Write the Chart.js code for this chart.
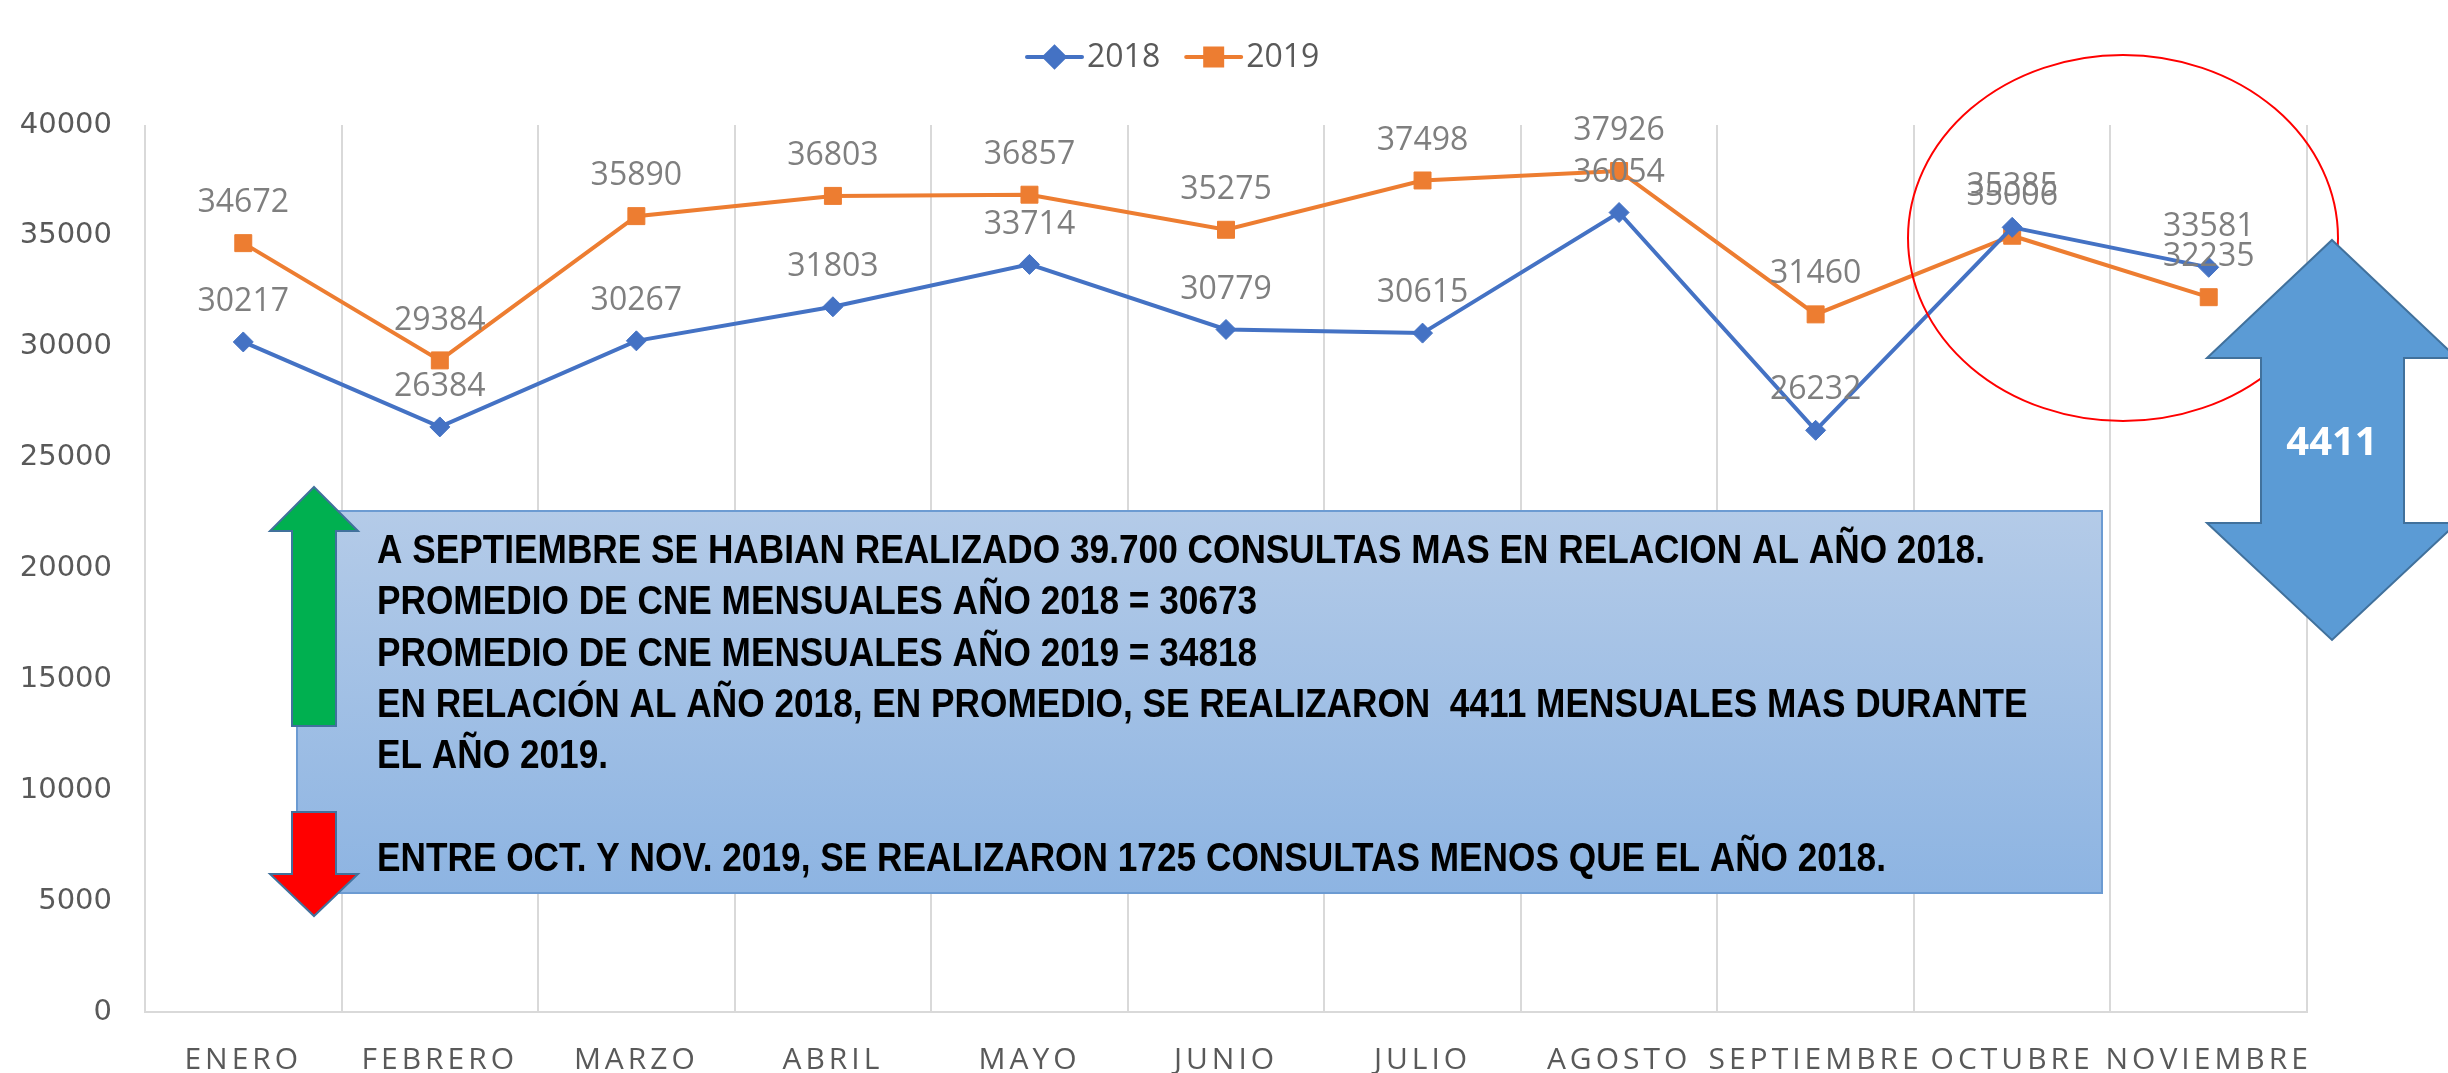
<!DOCTYPE html>
<html lang="es">
<head>
<meta charset="UTF-8">
<title>Consultas 2018 - 2019</title>
<style>
  html, body { margin: 0; padding: 0; background: #fff; }
</style>
</head>
<body>
<canvas id="grafico" width="2448" height="1073"></canvas>
<script src="https://cdn.jsdelivr.net/npm/chart.js"></script>
<script>
// datos
const meses = ['ENERO', 'FEBRERO', 'MARZO', 'ABRIL', 'MAYO', 'JUNIO', 'JULIO',
  'AGOSTO', 'SEPTIEMBRE', 'OCTUBRE', 'NOVIEMBRE'];
const datos2018 = [30217, 26384, 30267, 31803, 33714, 30779, 30615, 36054, 26232, 35385, 33581];
const datos2019 = [34672, 29384, 35890, 36803, 36857, 35275, 37498, 37926, 31460, 35006, 32235];
const ejeY = { min: 0, max: 40000, paso: 5000 };
const notas = [
  'A SEPTIEMBRE SE HABIAN REALIZADO 39.700 CONSULTAS MAS EN RELACION AL AÑO 2018.',
  'PROMEDIO DE CNE MENSUALES AÑO 2018 = 30673',
  'PROMEDIO DE CNE MENSUALES AÑO 2019 = 34818',
  'EN RELACIÓN AL AÑO 2018, EN PROMEDIO, SE REALIZARON  4411 MENSUALES MAS DURANTE',
  'EL AÑO 2019.',
  '',
  'ENTRE OCT. Y NOV. 2019, SE REALIZARON 1725 CONSULTAS MENOS QUE EL AÑO 2018.'
];
const diferencia = '4411';

const AZUL = '#4472c4';
const NARANJA = '#ed7d31';
const GRIS = '#595959';

// las etiquetas del eje x van con letras espaciadas
const espaciado = {
  id: 'espaciado',
  afterLayout(chart) {
    const sx = chart.scales.x;
    if (sx._conEspacio) return;
    const orig = sx.drawLabels.bind(sx);
    sx.drawLabels = function (area) {
      chart.ctx.save();
      chart.ctx.letterSpacing = '4px';
      orig(area);
      chart.ctx.restore();
    };
    sx._conEspacio = true;
  }
};

// valores encima de cada punto
const etiquetas = {
  id: 'etiquetas',
  afterDatasetsDraw(chart) {
    const ctx = chart.ctx;
    ctx.save();
    ctx.font = '32px "Open Sans"';
    ctx.fillStyle = '#7f7f7f';
    ctx.textAlign = 'center';
    ctx.textBaseline = 'middle';
    chart.data.datasets.forEach((ds, i) => {
      chart.getDatasetMeta(i).data.forEach((pt, j) => {
        ctx.fillText(String(ds.data[j]), pt.x, pt.y - 40);
      });
    });
    ctx.restore();
  }
};

function flecha(ctx, pts, relleno) {
  ctx.beginPath();
  ctx.moveTo(pts[0][0], pts[0][1]);
  for (let i = 1; i < pts.length; i++) ctx.lineTo(pts[i][0], pts[i][1]);
  ctx.closePath();
  ctx.fillStyle = relleno;
  ctx.fill();
  ctx.lineWidth = 2;
  ctx.strokeStyle = '#41719c';
  ctx.stroke();
}

// leyenda, cuadro de texto, flechas y circulo
const anotaciones = {
  id: 'anotaciones',
  afterDraw(chart) {
    const ctx = chart.ctx;
    ctx.save();

    // leyenda
    let x = 1027;
    const yl = 57;
    ctx.font = '32px "Open Sans"';
    ctx.textBaseline = 'middle';
    chart.data.datasets.forEach(ds => {
      ctx.strokeStyle = ds.borderColor;
      ctx.lineWidth = 4;
      ctx.lineCap = 'round';
      ctx.beginPath();
      ctx.moveTo(x, yl);
      ctx.lineTo(x + 55, yl);
      ctx.stroke();
      Chart.helpers.drawPoint(ctx, {
        pointStyle: ds.pointStyle, radius: ds.pointRadius, borderWidth: 1
      }, x + 27.5, yl);
      ctx.fillStyle = ds.borderColor;
      ctx.fill();
      ctx.fillStyle = GRIS;
      ctx.textAlign = 'left';
      ctx.fillText(ds.label, x + 60, yl + 1);
      x += 60 + ctx.measureText(ds.label).width + 26;
    });

    // cuadro de texto
    const bx = 297, by = 511, bw = 2102 - 297, bh = 893 - 511;
    const grad = ctx.createLinearGradient(0, by, 0, by + bh);
    grad.addColorStop(0, '#b4cbe8');
    grad.addColorStop(1, '#8db4e2');
    ctx.fillStyle = grad;
    ctx.fillRect(bx, by, bw, bh);
    ctx.lineWidth = 2;
    ctx.strokeStyle = '#6c9bd2';
    ctx.strokeRect(bx, by, bw, bh);

    ctx.font = 'bold 40px "Liberation Sans Narrow", "Liberation Sans"';
    const ancho = ctx.measureText(notas[0]).width;
    const esc = 1608 / ancho;
    ctx.fillStyle = '#000';
    ctx.textAlign = 'left';
    ctx.textBaseline = 'alphabetic';
    notas.forEach((t, i) => {
      ctx.save();
      ctx.translate(377, 563 + i * 51.3);
      ctx.scale(esc, 1);
      ctx.fillText(t, 0, 0);
      ctx.restore();
    });

    // flecha verde hacia arriba
    flecha(ctx, [[314, 487], [358, 531], [336, 531], [336, 726], [292, 726], [292, 531], [270, 531]], '#00b050');
    // flecha roja hacia abajo
    flecha(ctx, [[292, 812], [336, 812], [336, 874], [358, 874], [314, 916], [270, 874], [292, 874]], '#ff0000');

    // circulo rojo
    ctx.beginPath();
    ctx.ellipse(2123, 238, 215, 183, 0, 0, Math.PI * 2);
    ctx.lineWidth = 2;
    ctx.strokeStyle = '#ff0000';
    ctx.stroke();

    // flecha doble azul
    flecha(ctx, [[2332, 240], [2457, 358], [2404, 358], [2404, 523], [2457, 523], [2332, 640],
      [2207, 523], [2261, 523], [2261, 358], [2207, 358]], '#5b9bd5');
    ctx.font = 'bold 40px "Open Sans"';
    ctx.fillStyle = '#fff';
    ctx.textAlign = 'center';
    ctx.textBaseline = 'middle';
    ctx.fillText(diferencia, 2332, 444);

    ctx.restore();
  }
};

new Chart(document.getElementById('grafico'), {
  type: 'line',
  data: {
    labels: meses,
    datasets: [{
      label: '2018',
      data: datos2018,
      borderColor: AZUL,
      backgroundColor: AZUL,
      borderWidth: 4,
      pointStyle: 'rectRot',
      pointRadius: 10,
      pointBorderWidth: 1,
      tension: 0
    }, {
      label: '2019',
      data: datos2019,
      borderColor: NARANJA,
      backgroundColor: NARANJA,
      borderWidth: 4,
      pointStyle: 'rect',
      pointRadius: 12,
      pointBorderWidth: 1,
      tension: 0
    }]
  },
  options: {
    responsive: false,
    animation: false,
    layout: { padding: { top: 125, right: 141, left: 0, bottom: 0 } },
    plugins: {
      legend: { display: false },
      tooltip: { enabled: false }
    },
    scales: {
      x: {
        offset: true,
        grid: { display: true, offset: true, color: '#d9d9d9', lineWidth: 2, drawTicks: false },
        border: { display: true, color: '#d9d9d9', width: 2 },
        ticks: {
          color: GRIS,
          font: { family: '"Open Sans"', size: 30 },
          padding: 30,
          maxRotation: 0,
          autoSkip: false
        },
        afterFit(s) { s.height = 1073 - 1012; }
      },
      y: {
        min: ejeY.min,
        max: ejeY.max,
        grid: { display: false, drawTicks: false },
        border: { display: false },
        ticks: {
          stepSize: ejeY.paso,
          color: GRIS,
          font: { family: '"DejaVu Sans"', size: 29 },
          padding: 33,
          callback: v => String(v)
        },
        afterFit(s) { s.width = 145; }
      }
    }
  },
  plugins: [espaciado, etiquetas, anotaciones]
});
</script>
</body>
</html>
